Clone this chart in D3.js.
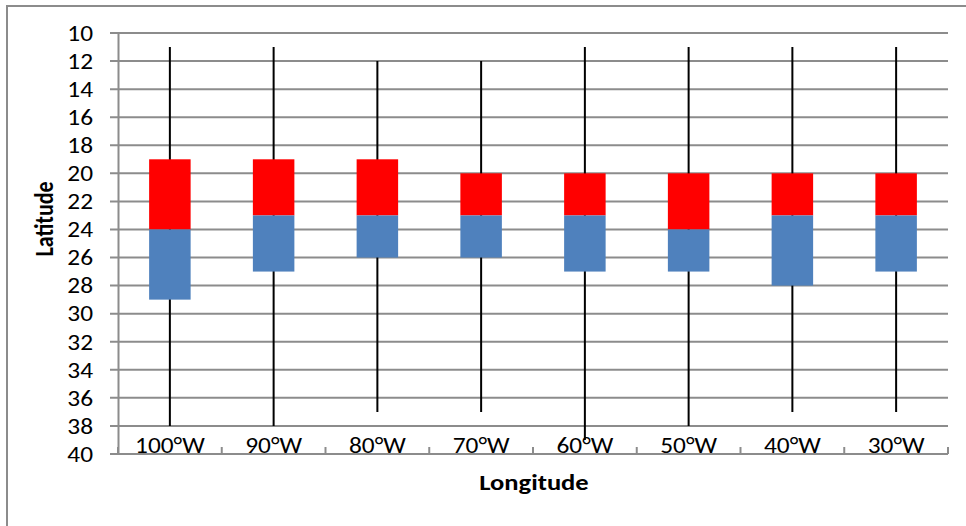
<!DOCTYPE html>
<html>
<head>
<meta charset="utf-8">
<script src="https://cdn.jsdelivr.net/npm/d3@7"></script>
<style>
  html, body { margin: 0; padding: 0; background: #fff; }
  svg { display: block; }
  text { font-family: Carlito, Calibri, Lato, "Open Sans", sans-serif; fill: #000; }
</style>
</head>
<body>
<svg id="chart" width="966" height="526"></svg>
<script>
// Latitude spread of each longitude band
const longitudes = ["100°W", "90°W", "80°W", "70°W", "60°W", "50°W", "40°W", "30°W"];
const whiskerTop = [11, 11, 12, 12, 11, 11, 11, 11];
const boxTop     = [19, 19, 19, 20, 20, 20, 20, 20];
const median     = [24, 23, 23, 23, 23, 24, 23, 23];
const boxBottom  = [29, 27, 26, 26, 27, 27, 28, 27];
const whiskerBot = [38, 38, 37, 37, 39, 38, 37, 37];
const latTicks   = [10, 12, 14, 16, 18, 20, 22, 24, 26, 28, 30, 32, 34, 36, 38, 40];

(function () {
  const rows = longitudes.map((c, i) => ({
    c, lo: whiskerTop[i], q1: boxTop[i], med: median[i], q3: boxBottom[i], hi: whiskerBot[i]
  }));

  const svg = d3.select("#chart");
  const plotLeft = 118, plotRight = 948, plotTop = 33, plotBottom = 454;
  const grid = "#8c8c8c";
  const wide = 1.18;   // horizontal widening applied to all lettering

  // frame around the chart area
  svg.append("path")
    .attr("d", "M7,530 V6 H970")
    .attr("fill", "none").attr("stroke", grid).attr("stroke-width", 2);

  const x = d3.scaleBand().domain(longitudes).range([plotLeft, plotRight]).padding(0);
  const y = d3.scaleLinear().domain([10, 40]).range([plotTop, plotBottom]);

  // horizontal gridlines
  svg.append("g").selectAll("line").data(latTicks).join("line")
    .attr("x1", plotLeft - 8).attr("x2", plotRight)
    .attr("y1", d => y(d)).attr("y2", d => y(d))
    .attr("stroke", grid).attr("stroke-width", 2);

  // whiskers
  svg.append("g").selectAll("line").data(rows).join("line")
    .attr("x1", d => x(d.c) + x.bandwidth() / 2)
    .attr("x2", d => x(d.c) + x.bandwidth() / 2)
    .attr("y1", d => y(d.lo)).attr("y2", d => y(d.hi))
    .attr("stroke", "#000").attr("stroke-width", 2);

  const bw = x.bandwidth() * 0.4;
  // upper box: quartile to median
  svg.append("g").selectAll("rect").data(rows).join("rect")
    .attr("x", d => x(d.c) + (x.bandwidth() - bw) / 2)
    .attr("width", bw)
    .attr("y", d => y(d.q1))
    .attr("height", d => y(d.med) - y(d.q1))
    .attr("fill", "#ff0000");

  // lower box: median to quartile
  svg.append("g").selectAll("rect").data(rows).join("rect")
    .attr("x", d => x(d.c) + (x.bandwidth() - bw) / 2)
    .attr("width", bw)
    .attr("y", d => y(d.med))
    .attr("height", d => y(d.q3) - y(d.med))
    .attr("fill", "#4f81bd");

  // latitude axis
  const yAxis = svg.append("g").attr("transform", `translate(${plotLeft},0)`)
    .call(d3.axisLeft(y).tickValues(latTicks).tickSize(0));
  yAxis.select(".domain").attr("stroke", grid).attr("stroke-width", 2);
  yAxis.selectAll("text")
    .attr("x", 0)
    .attr("transform", `translate(-25,0) scale(${wide},1)`)
    .attr("font-size", 21.5).attr("dy", "0.34em")
    .attr("font-family", "Carlito, Calibri, Lato, sans-serif");

  // longitude axis, ticks between categories pointing up
  const xAxis = svg.append("g").attr("transform", `translate(0,${plotBottom})`);
  xAxis.append("line").attr("x1", plotLeft).attr("x2", plotRight)
    .attr("stroke", grid).attr("stroke-width", 2);
  const bounds = longitudes.map(c => x(c)).concat([plotRight]);
  xAxis.selectAll("line.tk").data(bounds).join("line").attr("class", "tk")
    .attr("x1", d => d).attr("x2", d => d).attr("y1", 0).attr("y2", -7)
    .attr("stroke", grid).attr("stroke-width", 2);
  xAxis.selectAll("text").data(longitudes).join("text")
    .attr("transform", d => `translate(${x(d) + x.bandwidth() / 2},-1) scale(${wide},1)`)
    .attr("text-anchor", "middle")
    .attr("font-size", 21.5)
    .text(d => d);

  // axis titles
  svg.append("text")
    .attr("transform", `translate(53,219) scale(${wide},1) rotate(-90)`)
    .attr("text-anchor", "middle")
    .attr("font-size", 22).attr("font-weight", "bold")
    .text("Latitude");
  svg.append("text")
    .attr("transform", `translate(534,490) scale(${wide},1)`)
    .attr("text-anchor", "middle")
    .attr("font-size", 22.5).attr("font-weight", "bold")
    .text("Longitude");
})();
</script>
</body>
</html>
